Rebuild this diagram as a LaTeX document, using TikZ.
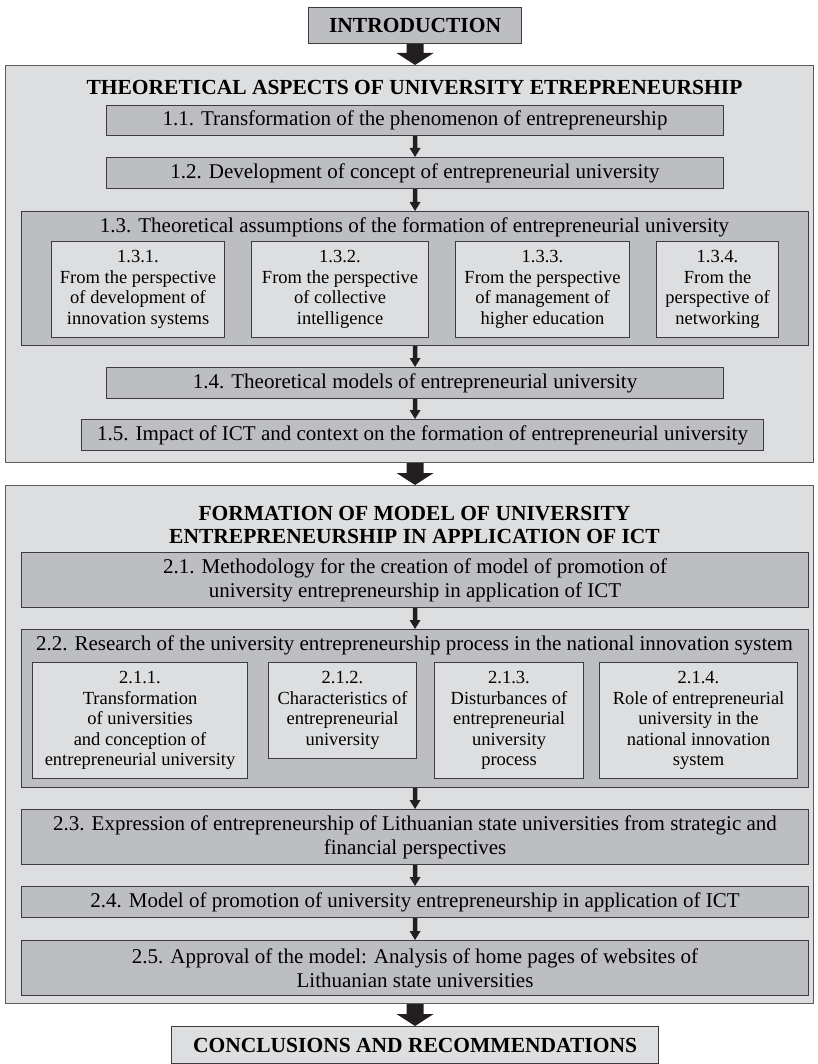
\documentclass[tikz,border=0pt]{standalone}
\usepackage{fontspec}
\setmainfont{Liberation Serif}
\usetikzlibrary{calc}
\definecolor{lightfill}{RGB}{221,222,224}
\definecolor{darkfill}{RGB}{189,190,193}
\definecolor{borderdark}{RGB}{60,60,62}
\definecolor{bordergray}{RGB}{90,90,92}
\definecolor{arrfill}{RGB}{35,31,32}
\newcommand\mainfs{\fontsize{21}{24}\selectfont}
\newcommand\subfs{\fontsize{18.5}{20.5}\selectfont}
\newcommand\ttlfs{\fontsize{21.5}{23}\selectfont\bfseries}
% downward block arrow: start, target, half shaft, half head, head length
\newcommand\blockarr[5]{%
  \coordinate (as) at (#1);
  \coordinate (ae) at (as |- #2);
  \fill[arrfill] ($(as)+(-#3,0)$) -- ($(as)+(#3,0)$) -- ($(ae)+(#3,-#5)$) -- ($(ae)+(#4,-#5)$) -- (ae) -- ($(ae)+(-#4,-#5)$) -- ($(ae)+(-#3,-#5)$) -- cycle;}
\tikzset{
  outerbox/.style={draw=bordergray, fill=lightfill, line width=1.1pt, inner sep=0pt, anchor=north west},
  innerbox/.style={draw=borderdark, fill=darkfill, line width=1.1pt, inner sep=0pt, anchor=north west, font=\mainfs, align=center},
  subbox/.style={draw=borderdark, fill=lightfill, line width=1.1pt, inner sep=0pt, anchor=north west, font=\subfs, align=center},
  ttl/.style={font=\ttlfs, align=center, inner sep=0pt},
  lbl/.style={font=\mainfs, align=center, inner sep=0pt},
}
\begin{document}
\begin{tikzpicture}[x=1pt, y=-1pt]
\useasboundingbox (0,0) rectangle (818,1064);
\fill[white] (0,0) rectangle (818,1064);
% introduction
\node[innerbox, font=\ttlfs, minimum width=213pt, minimum height=36pt] (intro) at (308,7) {INTRODUCTION};
% part 1
\node[outerbox, minimum width=808pt, minimum height=397pt] (box1) at (5,65) {};
\node[ttl] (t1) at (414.5,88) {THEORETICAL ASPECTS OF UNIVERSITY ETREPRENEURSHIP};
\node[innerbox, minimum width=617pt, minimum height=30pt] (b11) at (106,105) {1.1. Transformation of the phenomenon of entrepreneurship};
\node[innerbox, minimum width=617pt, minimum height=31pt] (b12) at (106,157) {1.2. Development of concept of entrepreneurial university};
\node[innerbox, minimum width=787pt, minimum height=134pt] (b13) at (21,211) {};
\node[lbl] (t13) at (414.5,227) {1.3. Theoretical assumptions of the formation of entrepreneurial university};
\node[subbox, minimum width=173pt, minimum height=96pt] (b131) at (51,241) {1.3.1.\\From the perspective\\of development of\\innovation systems};
\node[subbox, minimum width=177pt, minimum height=96pt] (b132) at (251,241) {1.3.2.\\From the perspective\\of collective\\intelligence};
\node[subbox, minimum width=174pt, minimum height=96pt] (b133) at (455,241) {1.3.3.\\From the perspective\\of management of\\higher education};
\node[subbox, minimum width=122pt, minimum height=96pt] (b134) at (656,241) {1.3.4.\\From the\\perspective of\\networking};
\node[innerbox, minimum width=617pt, minimum height=31pt] (b14) at (106,367) {1.4. Theoretical models of entrepreneurial university};
\node[innerbox, minimum width=682pt, minimum height=31pt] (b15) at (81,419) {1.5. Impact of ICT and context on the formation of entrepreneurial university};
% part 2
\node[outerbox, minimum width=808pt, minimum height=518pt] (box2) at (5,485) {};
\node[ttl] (t2) at (414.5,525) {FORMATION OF MODEL OF UNIVERSITY\\ENTREPRENEURSHIP IN APPLICATION OF ICT};
\node[innerbox, minimum width=787pt, minimum height=55pt] (b21) at (21,552) {2.1. Methodology for the creation of model of promotion of\\university entrepreneurship in application of ICT};
\node[innerbox, minimum width=787pt, minimum height=158pt] (b22) at (21,629) {};
\node[lbl] (t22) at (414.5,645) {2.2. Research of the university entrepreneurship process in the national innovation system};
\node[subbox, minimum width=215pt, minimum height=116pt] (b211) at (32,662) {2.1.1.\\Transformation\\of universities\\and conception of\\entrepreneurial university};
\node[subbox, minimum width=148pt, minimum height=96pt] (b212) at (268,662) {2.1.2.\\Characteristics of\\entrepreneurial\\university};
\node[subbox, minimum width=149pt, minimum height=116pt] (b213) at (434,662) {2.1.3.\\Disturbances of\\entrepreneurial\\university\\process};
\node[subbox, minimum width=198pt, minimum height=116pt] (b214) at (599,662) {2.1.4.\\Role of entrepreneurial\\university in the\\national innovation\\system};
\node[innerbox, minimum width=787pt, minimum height=55pt] (b23) at (21,809) {2.3. Expression of entrepreneurship of Lithuanian state universities from strategic and\\financial perspectives};
\node[innerbox, minimum width=787pt, minimum height=31pt] (b24) at (21,886) {2.4. Model of promotion of university entrepreneurship in application of ICT};
\node[innerbox, minimum width=787pt, minimum height=55pt] (b25) at (21,940) {2.5. Approval of the model: Analysis of home pages of websites of\\Lithuanian state universities};
% conclusions
\node[outerbox, draw=borderdark, font=\ttlfs, minimum width=487pt, minimum height=37pt] (concl) at (171,1026) {CONCLUSIONS AND RECOMMENDATIONS};
% big arrows
\blockarr{intro.south}{box1.north}{8.5}{18.5}{12}
\blockarr{b14.south |- box1.south}{box2.north}{8.5}{18.5}{12}
\blockarr{concl.north |- box2.south}{concl.north}{8.5}{18.5}{12}
% small arrows
\blockarr{b11.south}{b12.north}{2.2}{5.5}{9}
\blockarr{b12.south}{b13.north}{2.2}{5.5}{9}
\blockarr{b13.south}{b14.north}{2.2}{5.5}{9}
\blockarr{b14.south}{b15.north}{2.2}{5.5}{9}
\blockarr{b21.south}{b22.north}{2.2}{5.5}{9}
\blockarr{b22.south}{b23.north}{2.2}{5.5}{9}
\blockarr{b23.south}{b24.north}{2.2}{5.5}{9}
\blockarr{b24.south}{b25.north}{2.2}{5.5}{9}
\end{tikzpicture}
\end{document}
